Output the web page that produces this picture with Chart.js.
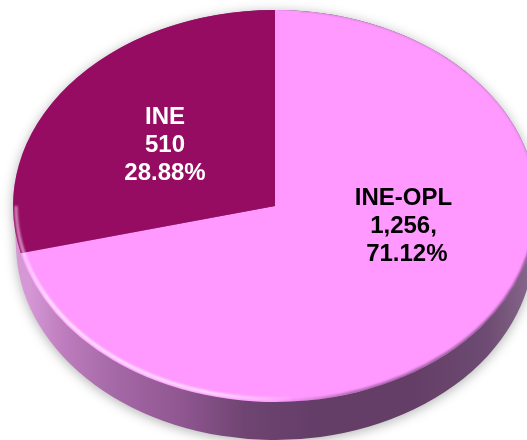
<!DOCTYPE html>
<html>
<head>
<meta charset="utf-8">
<style>
  html, body { margin: 0; padding: 0; background: #fff; overflow: hidden; }
  canvas { display: block; }
</style>
<script src="https://cdn.jsdelivr.net/npm/chart.js@4"></script>
</head>
<body>
<canvas id="chart" width="527" height="440"></canvas>
<script>
// data, clockwise from 12 o'clock
const categories = ['INE-OPL', 'INE'];
const values = [1256, 510];
const valueLabels = ['1,256,', '510'];
const percentLabels = [' 71.12%', '28.88%'];
const sliceColors = ['#ff99ff', '#960c62'];
const textColors = ['#000000', '#ffffff'];

// ellipse of the top face and label placement
const face = { cx: 275, cy: 206, rx: 262, ry: 196 };
const depth = 38;
const labelOffsets = [[128.5, 20.5], [-110, -60.5]];
const lineHeight = 27.8;

// horizontal colours of the side wall
const wallStops = [
  [0.03, '#d598d5'], [0.10, '#bd7cbd'], [0.20, '#a468a6'], [0.33, '#8f5690'],
  [0.45, '#6f4472'], [0.58, '#643e68'], [0.78, '#643e66'], [0.92, '#6d4b72'], [1, '#846488']
];

const pie3d = {
  id: 'pie3d',
  beforeDatasetsDraw(chart) {
    const ctx = chart.ctx;
    const arc = chart.getDatasetMeta(0).data[0];
    const { cx, cy, rx, ry } = face;

    // side wall with soft shadow
    const wall = ctx.createLinearGradient(cx - rx, 0, cx + rx - 10, 0);
    wallStops.forEach(s => wall.addColorStop(s[0], s[1]));
    ctx.save();
    ctx.fillStyle = wall;
    ctx.shadowColor = 'rgba(0,0,0,0.3)';
    ctx.shadowBlur = 12;
    ctx.shadowOffsetY = 2;
    ctx.beginPath();
    ctx.ellipse(cx, cy + depth, rx - 3, ry, 0, 0.02, Math.PI - 0.05);
    ctx.ellipse(cx, cy, rx, ry, 0, Math.PI - 0.12, 0);
    ctx.closePath();
    ctx.fill();
    ctx.restore();

    // squash the library's circle to the ellipse
    ctx.save();
    ctx.translate(cx, cy);
    ctx.scale(rx / arc.outerRadius, ry / arc.outerRadius);
    ctx.translate(-arc.x, -arc.y);
  },
  afterDatasetsDraw(chart) {
    const ctx = chart.ctx;
    ctx.restore();
    const { cx, cy, rx, ry } = face;

    // bevel along the rim of the face
    ctx.save();
    ctx.beginPath();
    ctx.ellipse(cx, cy, rx, ry, 0, 0, Math.PI * 2);
    ctx.clip();
    ctx.filter = 'blur(1.2px)';

    const light = ctx.createLinearGradient(cx - rx, 0, cx + 30, 0);
    light.addColorStop(0, 'rgba(255,225,255,0.55)');
    light.addColorStop(0.12, 'rgba(255,235,255,0.95)');
    light.addColorStop(0.7, 'rgba(255,235,255,0.85)');
    light.addColorStop(1, 'rgba(255,235,255,0)');
    ctx.strokeStyle = light;
    ctx.lineWidth = 3;
    ctx.beginPath();
    ctx.ellipse(cx, cy, rx - 3, ry - 3, 0, Math.PI * 0.48, Math.PI * 1.0);
    ctx.stroke();

    const dark = ctx.createLinearGradient(cx, 0, cx + rx, 0);
    dark.addColorStop(0, 'rgba(100,60,105,0)');
    dark.addColorStop(0.3, 'rgba(100,60,105,0.55)');
    dark.addColorStop(1, 'rgba(100,60,105,0.7)');
    ctx.strokeStyle = dark;
    ctx.lineWidth = 4;
    ctx.beginPath();
    ctx.ellipse(cx, cy, rx, ry, 0, Math.PI * 0.05, Math.PI * 0.5);
    ctx.stroke();

    ctx.strokeStyle = 'rgba(90,70,90,0.3)';
    ctx.lineWidth = 1.5;
    ctx.beginPath();
    ctx.ellipse(cx, cy, rx, ry, 0, -Math.PI * 0.47, Math.PI * 0.05);
    ctx.stroke();
    ctx.restore();

    // labels
    ctx.save();
    ctx.font = 'bold 24px "Liberation Sans", Arial, sans-serif';
    ctx.textAlign = 'center';
    ctx.textBaseline = 'middle';
    categories.forEach((name, i) => {
      const x = cx + labelOffsets[i][0];
      const y = cy + labelOffsets[i][1];
      ctx.fillStyle = textColors[i];
      [name, valueLabels[i], percentLabels[i]].forEach((line, n) => {
        ctx.fillText(line, x, y + (n - 1) * lineHeight);
      });
    });
    ctx.restore();
  }
};

new Chart(document.getElementById('chart'), {
  type: 'pie',
  data: {
    labels: categories,
    datasets: [{
      data: values,
      backgroundColor: sliceColors,
      borderWidth: 0,
      hoverOffset: 0,
      clip: false
    }]
  },
  options: {
    responsive: false,
    animation: false,
    layout: { padding: 0 },
    plugins: { legend: { display: false }, tooltip: { enabled: false } }
  },
  plugins: [pie3d]
});
</script>
</body>
</html>
